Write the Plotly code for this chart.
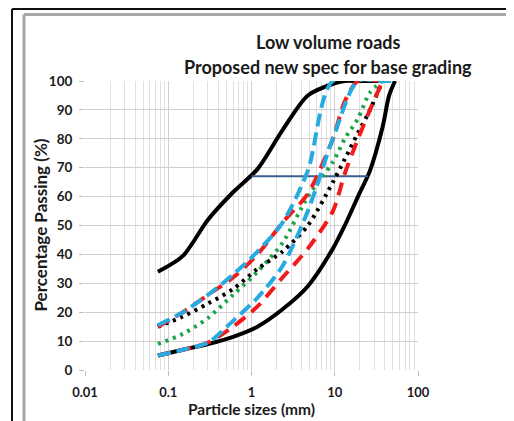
import plotly.graph_objects as go

# ---- data ----
upper_limit_x = [0.075, 0.15, 0.3, 0.6, 1.18, 2.36, 4.75, 9.5, 13.2, 19, 26.5, 37.5]
upper_limit_y = [34, 39.5, 52, 61.5, 69.5, 83, 95, 99, 100, 100, 100, 100]

lower_limit_x = [0.075, 0.15, 0.3, 0.6, 1.18, 2.36, 4.75, 9.5, 13.2, 19, 26.5, 37.5, 45, 53]
lower_limit_y = [5, 7, 9, 11.5, 15, 21, 29, 42, 50, 60, 69, 84, 95, 100]

green_x = [0.075, 0.15, 0.3, 0.6, 1.18, 2.36, 4.75, 9.5, 13.2, 19, 26.5, 37.5]
green_y = [9, 12.5, 18, 26, 34, 44, 60, 72, 80, 87, 96, 100]

blackdot_x = [0.075, 0.15, 0.3, 0.6, 1.18, 2.36, 4.75, 9.5, 13.2, 19, 26.5, 37.5]
blackdot_y = [15, 18.5, 23, 28, 35, 41, 50, 65, 73, 82, 90, 100]

red_fine_x = [0.075, 0.15, 0.3, 0.6, 1.18, 2.36, 4.75, 9.5, 13.2, 19, 37.5]
red_fine_y = [15, 20, 26, 32, 40, 51, 61, 80, 93, 100, 100]

red_coarse_x = [0.075, 0.15, 0.3, 0.6, 1.18, 2.36, 4.75, 9.5, 13.2, 19, 26.5, 37.5]
red_coarse_y = [5, 7, 9.5, 15, 22, 32, 42, 55, 68, 80, 90, 100]

blue_fine_x = [0.075, 0.15, 0.3, 0.6, 1.18, 2.36, 4.75, 9.5, 37.5, 53]
blue_fine_y = [15.5, 20, 26, 33, 41, 51, 69, 100, 100, 100]

blue_coarse_x = [0.075, 0.15, 0.3, 0.6, 1.18, 2.36, 4.75, 9.5, 19, 37.5, 53]
blue_coarse_y = [5, 7, 9.5, 17, 25, 36, 55, 80, 100, 100, 100]

hline_x = [1, 25]
hline_y = [67, 67]

x_tick_vals = [0.01, 0.1, 1, 10, 100]
x_tick_text = ["0.01", "0.1", "1", "10", "100"]
y_tick_vals = [0, 10, 20, 30, 40, 50, 60, 70, 80, 90, 100]

title_lines = ["Low volume roads", "Proposed new spec for base grading"]
x_title = "Particle sizes (mm)"
y_title = "Percentage Passing (%)"

FONT = "Lato"
BLUE = "#27AAE1"
RED = "#F21B1B"
GREEN = "#1DA54A"
BLACK = "#000000"
NAVY = "#3A5F8C"

fig = go.Figure()

def add(x, y, color, width, dash="solid", shape="spline"):
    fig.add_trace(go.Scatter(
        x=x, y=y, mode="lines",
        line=dict(color=color, width=width, dash=dash, shape=shape, smoothing=0.8),
        showlegend=False, hoverinfo="skip"))

add(upper_limit_x, upper_limit_y, BLACK, 4)
add(lower_limit_x, lower_limit_y, BLACK, 4)
add(hline_x, hline_y, NAVY, 2, shape="linear")
add(green_x, green_y, GREEN, 4, dash="3px,5px")
add(blackdot_x, blackdot_y, BLACK, 4, dash="3px,5px")
add(red_coarse_x, red_coarse_y, RED, 4, dash="13px,8px")
add(red_fine_x, red_fine_y, RED, 4, dash="13px,8px")
add(blue_coarse_x, blue_coarse_y, BLUE, 4, dash="13px,6px")
add(blue_fine_x, blue_fine_y, BLUE, 4, dash="13px,6px")

# page body has an 8px margin: work in screen pixels, then shift
OFF = 8
W, H = 514 - OFF, 421 - OFF
L, R, T, B = 85 - OFF, 418 - OFF, 81 - OFF, 370 - OFF

def px_x(p):
    return (p - OFF - L) / (R - L)

def px_y(p):
    return (B - (p - OFF)) / (B - T)

annotations = [
    dict(text=title_lines[0], x=px_x(328), y=px_y(42), xref="paper", yref="paper",
         showarrow=False, xanchor="center", yanchor="middle",
         font=dict(family=FONT, size=18, color="#1a1a1a", weight="bold")),
    dict(text=title_lines[1], x=px_x(328), y=px_y(67), xref="paper", yref="paper",
         showarrow=False, xanchor="center", yanchor="middle",
         font=dict(family=FONT, size=18, color="#1a1a1a", weight="bold")),
    dict(text=x_title, x=0.5, y=px_y(409), xref="paper", yref="paper",
         showarrow=False, xanchor="center", yanchor="middle",
         font=dict(family=FONT, size=15.5, color="#1a1a1a", weight="bold")),
    dict(text=y_title, x=px_x(40), y=0.5, xref="paper", yref="paper", textangle=-90,
         showarrow=False, xanchor="center", yanchor="middle",
         font=dict(family=FONT, size=17, color="#1a1a1a", weight="bold")),
]

shapes = [
    dict(type="line", xref="paper", yref="paper", x0=px_x(12), x1=px_x(12),
         y0=px_y(9), y1=px_y(425), line=dict(color="#111111", width=2)),
    dict(type="line", xref="paper", yref="paper", x0=px_x(12), x1=px_x(520),
         y0=px_y(9), y1=px_y(9), line=dict(color="#111111", width=2)),
    dict(type="line", xref="paper", yref="paper", x0=px_x(24), x1=px_x(24),
         y0=px_y(14.5), y1=px_y(425), line=dict(color="#a8a8a8", width=3)),
    dict(type="line", xref="paper", yref="paper", x0=px_x(24), x1=px_x(520),
         y0=px_y(14.5), y1=px_y(14.5), line=dict(color="#a8a8a8", width=3)),
]

fig.update_layout(
    width=W, height=H,
    margin=dict(l=L, r=W - R, t=T, b=H - B, pad=0),
    paper_bgcolor="white", plot_bgcolor="white",
    annotations=annotations, shapes=shapes,
    xaxis=dict(type="log", range=[-2, 2], tickvals=x_tick_vals, ticktext=x_tick_text,
               showgrid=True, gridcolor="#cfcfcf", gridwidth=1,
               minor=dict(dtick="D1", showgrid=True, gridcolor="#e0e0e0", gridwidth=1,
                          ticks=""),
               ticks="outside", ticklen=5, tickcolor="#bfbfbf",
               ticklabelstandoff=5,
               showline=False, zeroline=False,
               tickfont=dict(family=FONT, size=13, color="#1a1a1a", weight="bold")),
    yaxis=dict(range=[0, 100], tickvals=y_tick_vals,
               showgrid=True, gridcolor="#cfcfcf", gridwidth=1,
               ticks="outside", ticklen=5, tickcolor="#bfbfbf",
               ticklabelstandoff=4,
               showline=False, zeroline=False,
               tickfont=dict(family=FONT, size=13.5, color="#1a1a1a", weight="bold")),
)

fig.write_html("out.html")
